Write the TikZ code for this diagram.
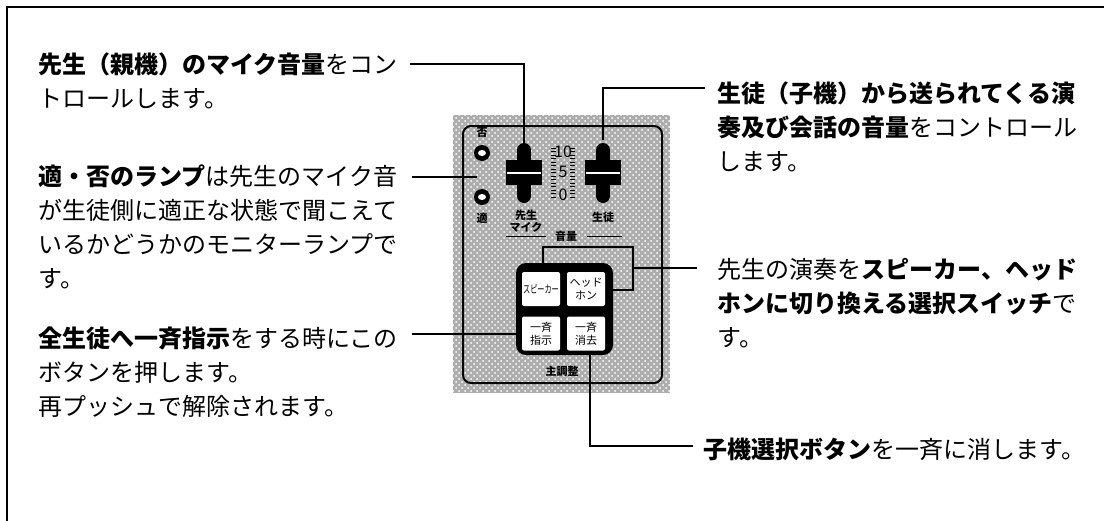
\documentclass[tikz,border=0pt]{standalone}
\usepackage{fontspec}
\setmainfont{Noto Sans CJK JP}
\usetikzlibrary{patterns,positioning}

\tikzset{
  leader/.style={line width=0.8pt},
  note/.style={anchor=north west, inner sep=0pt, align=left, font=\fontsize{12}{17}\selectfont},
  tag/.style={inner sep=0pt, align=center, font=\bfseries\fontsize{5.5}{6}\selectfont},
  keybtn/.style={fill=white, rounded corners=1pt, minimum width=19pt, minimum height=17pt,
    inner sep=0pt, align=center, font=\fontsize{5.5}{6.5}\selectfont},
  knob/.style={fill=black, minimum width=18pt, minimum height=12.5pt, inner sep=0pt},
  stem/.style={line width=7pt, line cap=round},
  lamp/.style={circle, fill=black, minimum size=8pt, inner sep=0pt},
  num/.style={inner sep=0pt, font=\fontsize{8}{8}\selectfont},
}

\begin{document}
\begin{tikzpicture}[x=0.5pt,y=-0.5pt]
\useasboundingbox (0,0) rectangle (1104,520);
\clip (0,0) rectangle (1104,520);
\fill[white] (0,0) rectangle (1104,520);
%%%%% frame %%%%%
\draw[line width=0.8pt] (7,540) -- (7,7) -- (1130,7);

%%%%% panel %%%%%
\fill[black!32] (453,115) rectangle (670,393);
\fill[pattern=crosshatch dots, pattern color=white] (453,115) rectangle (670,393);
\draw[line width=1pt, rounded corners=4pt] (463,126) rectangle (662,383);

% lamps
\node[tag] (no) at (482,133) {否};
\node[lamp] (lampNo) at (482,153) {};
\fill[white] (lampNo.center) ellipse (4 and 3);
\node[lamp] (lampOk) at (482,197) {};
\fill[white] (lampOk.center) ellipse (4 and 3);
\node[tag] (ok) at (482,218) {適};

% faders
\draw[stem] (524,150) -- (524,196);
\node[knob] (knobA) at (524,172.5) {};
\draw[white, line width=1pt] (507,173) -- (541,173);
\draw[stem] (603,150) -- (603,196);
\node[knob] (knobB) at (603,172.5) {};
\draw[white, line width=1pt] (586,173) -- (620,173);
\coordinate (topA) at (524,143);
\coordinate (topB) at (603,140);

% scale
\foreach \y in {148,151.5,...,198}{
  \draw[line width=0.4pt] (551,\y) -- (556,\y);
  \draw[line width=0.4pt] (570,\y) -- (575,\y);
}
\node[num] (n10) at (563,152) {10};
\node[num] (n5) at (563,172) {5};
\node[num] (n0) at (563,195) {0};

\node[tag] (micA) at (526,221) {先生\\マイク};
\node[tag] (stuB) at (603,217) {生徒};
\node[tag] (vol) at (566,236) {音量};
\draw[line width=0.5pt] (506,236) -- (546,236);
\draw[line width=0.5pt] (587,236) -- (622,236);

% buttons
\node[fill=black, rounded corners=5pt, minimum width=48.5pt, minimum height=46pt] (keys) at (564.5,309) {};
\node[keybtn] (spk) at (541,289) {\scalebox{0.65}[1]{スピーカー}};
\node[keybtn] (hph) at (586,289) {ヘッド\\ホン};
\node[keybtn] (allon) at (541,333.5) {一斉\\指示};
\node[keybtn] (alloff) at (586,333.5) {一斉\\消去};
\node[tag] (main) at (562,371) {主調整};

%%%%% notes %%%%%
\node[note] (t1) at (38,52) {\textbf{先生（親機）のマイク音量}をコン\\トロールします。};
\node[note] (t2) at (38,164) {\textbf{適・否のランプ}は先生のマイク音\\が生徒側に適正な状態で聞こえて\\いるかどうかのモニターランプで\\す。};
\node[note] (t3) at (38,326) {\textbf{全生徒へ一斉指示}をする時にこの\\ボタンを押します。\\再プッシュで解除されます。};
\node[note] (r1) at (717,81) {\textbf{生徒（子機）から送られてくる演}\\\textbf{奏及び会話の音量}をコントロール\\します。};
\node[note] (r2) at (717,258) {先生の演奏を\textbf{スピーカー、ヘッド}\\\textbf{ホンに切り換える選択スイッチ}で\\す。};
\node[note] (r3) at (703,438) {\textbf{子機選択ボタン}を一斉に消します。};

%%%%% leaders %%%%%
\coordinate (a1) at (410,64);
\coordinate (a2) at (412,177);
\coordinate (b2) at (477,177);
\coordinate (a3) at (412,334);
\coordinate (a4) at (705,88);
\coordinate (a5) at (697,268);
\coordinate (brk) at (633,247);
\coordinate (brkL) at (543,0);
\coordinate (brkR) at (0,290);
\coordinate (a6) at (693,446);
\coordinate (drop) at (590,0);
\draw[leader] (a1) -| (topA);
\draw[leader] (a2) -- (b2);
\draw[leader] (a3) -- (a3 -| keys.west);
\draw[leader] (a4) -| (topB);
\draw[leader] (keys.north -| brkL) |- (brk) |- (keys.east |- brkR);
\draw[leader] (a5) -- (brk |- a5);
\draw[leader] (keys.south -| drop) |- (a6);
\end{tikzpicture}
\end{document}
